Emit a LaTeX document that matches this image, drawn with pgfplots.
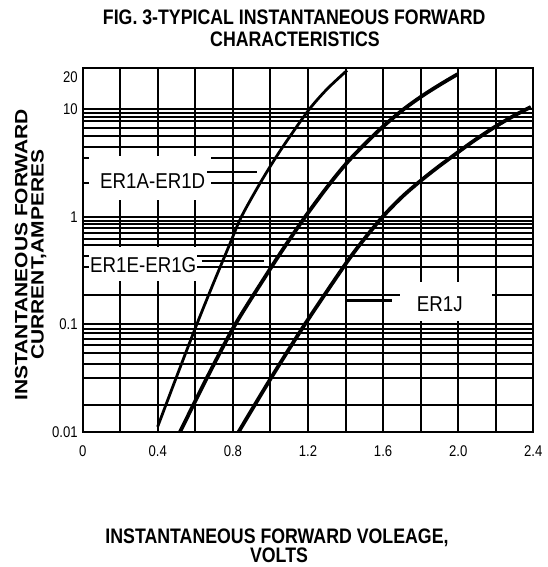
\documentclass[border=0pt]{standalone}
\usepackage{fontspec}
\setmainfont{Liberation Sans}
\usepackage{graphicx}
\usepackage{pgfplots}
\pgfplotsset{compat=1.18}
\newcommand{\sx}[1]{\scalebox{0.845}[1]{#1}}
\newcommand{\sy}[1]{\scalebox{1}[0.845]{#1}}
\newcommand{\slab}[1]{\scalebox{0.87}[1]{#1}}
\newcommand{\ttl}{\fontsize{21}{21}\selectfont\bfseries}
\newcommand{\lab}{\fontsize{21.5}{21.5}\selectfont}
\begin{document}
\begin{tikzpicture}[x=1pt,y=1pt]
\begin{axis}[
  scale only axis, width=450.6pt, height=363.7pt,
  at={(0,0)}, anchor=south west,
  ymode=log, xmin=0, xmax=2.4, ymin=0.01, ymax=24.2,
  xtick={0,0.4,0.8,1.2,1.6,2.0,2.4},
  xticklabels={\sx{0},\sx{0.4},\sx{0.8},\sx{1.2},\sx{1.6},\sx{2.0},\sx{2.4}},
  minor xtick={0.2,0.6,1.0,1.4,1.8,2.2},
  ytick={0.01,0.1,1,10},
  yticklabels={\sx{0.01},\sx{0.1},\sx{1},\sx{10}},
  extra y ticks={20}, extra y tick labels={\sx{20}}, extra y tick style={grid=none},
  minor ytick={0.0179,0.0318,0.0422,0.0543,0.0635,0.0721,0.0826,0.0902,
    0.189,0.338,0.434,0.548,0.622,0.701,0.780,0.855,0.918,
    2.04,3.50,4.46,5.60,6.75,7.73,8.47,9.20},
  grid=both,
  major grid style={black, line width=2pt},
  minor grid style={black, line width=2pt},
  axis line style={black, line width=2pt},
  major tick length=0pt, minor tick length=0pt,
  tick label style={font=\fontsize{15.5}{15.5}\selectfont},
  xticklabel style={yshift=-10pt},
  yticklabel style={xshift=-1.5pt},
]
\addplot[black, line width=2.8pt, smooth, tension=0.5] coordinates {
(0.399,0.0111) (0.498,0.0318) (0.605,0.0971) (0.693,0.233) (0.779,0.533) (0.844,0.989) (0.944,2.04) (1.026,3.5) (1.105,5.63) (1.208,10.06) (1.303,15.5) (1.408,23.0)};
\addplot[black, line width=3.8pt, smooth, tension=0.5] coordinates {
(0.519,0.01) (0.662,0.0318) (0.809,0.0971) (0.975,0.282) (1.078,0.533) (1.187,1.01) (1.317,2.04) (1.429,3.5) (1.584,6.52) (1.705,9.86) (1.811,13.4) (1.909,17.2) (1.997,21.2)};
\addplot[black, line width=3.8pt, smooth, tension=0.5] coordinates {
(0.831,0.01) (1.004,0.0318) (1.179,0.0971) (1.393,0.349) (1.491,0.594) (1.6,1.01) (1.701,1.53) (1.790,2.09) (1.880,2.79) (1.976,3.72) (2.083,5.08) (2.2,6.93) (2.297,8.70) (2.387,10.5)};
\end{axis}
% label boxes
\fill[white] (6.3,275.7) rectangle (128.3,231.7);
\node[anchor=base west, inner sep=0pt, font=\lab] at (17.3,243.4) {\slab{ER1A-ER1D}};
\draw[line width=2.2pt] (124.3,259.5) -- (174.3,259.5);
\fill[white] (6.3,184.7) rectangle (114.3,150.7);
\node[anchor=base west, inner sep=0pt, font=\lab] at (7.3,158.7) {\slab{ER1E-ER1G}};
\draw[line width=2pt] (119,170.2) -- (181.3,170.2);
\fill[white] (317.3,149.7) rectangle (409,110.7);
\node[anchor=base west, inner sep=0pt, font=\lab] at (334,119.7) {\slab{ER1J}};
\draw[line width=2.2pt] (262.3,131.2) -- (309,131.2);
% titles
\node[anchor=base, inner sep=0pt, font=\ttl] at (211.5,406.7) {\sx{FIG. 3-TYPICAL INSTANTANEOUS FORWARD}};
\node[anchor=base, inner sep=0pt, font=\ttl] at (212.3,385) {\sx{CHARACTERISTICS}};
\node[anchor=base, inner sep=0pt, font=\ttl] at (194.3,-111.3) {\sx{INSTANTANEOUS FORWARD VOLEAGE,}};
\node[anchor=base, inner sep=0pt, font=\ttl] at (196.3,-130.3) {\sx{VOLTS}};
\node[anchor=base, inner sep=0pt, rotate=90, font=\ttl] at (-55.2,177) {\sy{INSTANTANEOUS FORWARD}};
\node[anchor=base, inner sep=0pt, rotate=90, font=\ttl] at (-39.2,177) {\sy{CURRENT,AMPERES}};
\pgfresetboundingbox
\path[use as bounding box] (-82.7,-135.3) rectangle (464.3,431.7);
\end{tikzpicture}
\end{document}
